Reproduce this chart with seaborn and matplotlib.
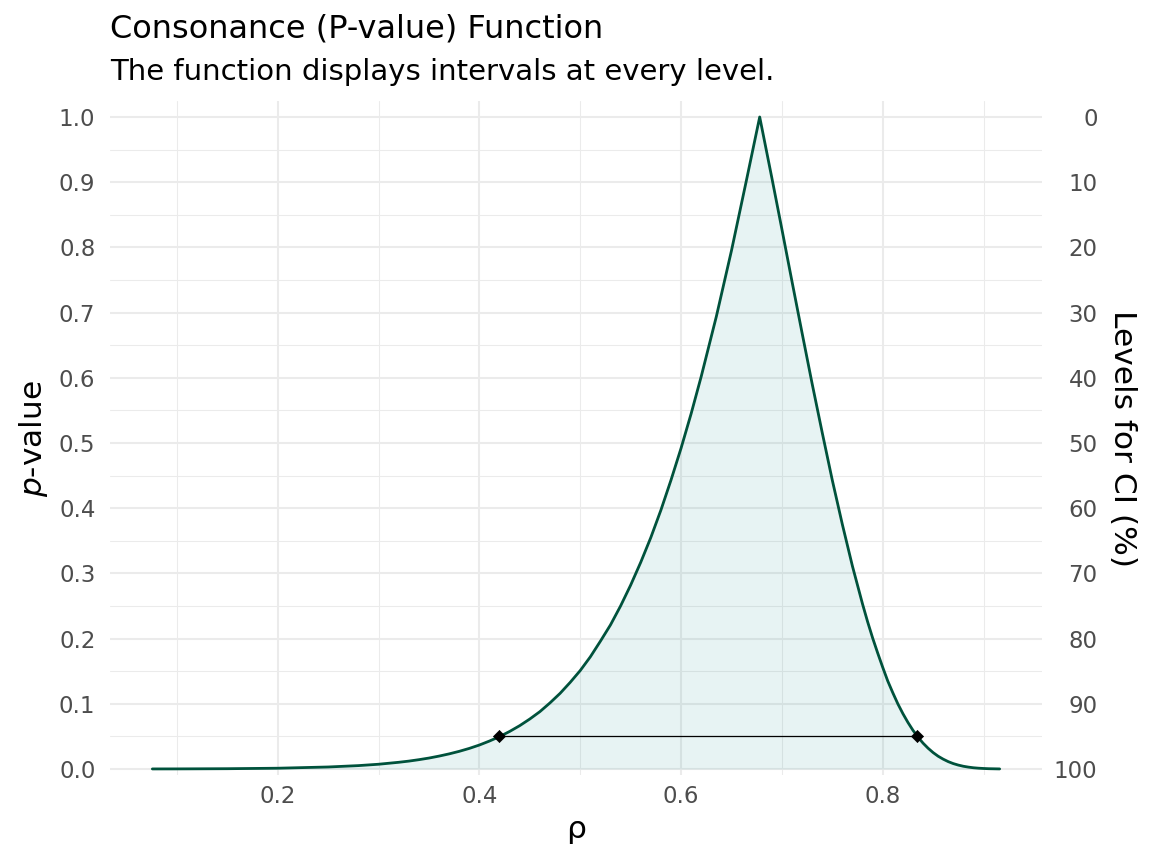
import numpy as np
import pandas as pd
import matplotlib
matplotlib.use("Agg")
import matplotlib.pyplot as plt
import seaborn as sns

# Values (rho vs p-value)
rho = [0.0756, 0.10, 0.15, 0.20, 0.25, 0.28, 0.30, 0.32, 0.33, 0.34, 0.35, 0.36,
       0.37, 0.38, 0.39, 0.40, 0.41, 0.42, 0.43, 0.44, 0.45, 0.46, 0.47, 0.48,
       0.49, 0.50, 0.51, 0.52, 0.53, 0.54, 0.55, 0.56, 0.57, 0.58, 0.59, 0.60,
       0.61, 0.62, 0.635, 0.65, 0.665, 0.678, 0.69, 0.70, 0.71, 0.72, 0.73,
       0.74, 0.75, 0.76, 0.77, 0.78, 0.785, 0.79, 0.795, 0.80, 0.805, 0.81,
       0.815, 0.82, 0.825, 0.83, 0.835, 0.84, 0.845, 0.85, 0.855, 0.86, 0.865,
       0.87, 0.875, 0.88, 0.885, 0.89, 0.895, 0.90, 0.905, 0.916]
pval = [0.0001, 0.00016, 0.00046, 0.0012, 0.0031, 0.0052, 0.0073, 0.0103, 0.0121,
        0.0143, 0.0168, 0.0198, 0.0232, 0.0271, 0.0316, 0.0368, 0.0429, 0.0497,
        0.0576, 0.0665, 0.0767, 0.088, 0.1014, 0.116, 0.1328, 0.151, 0.172,
        0.196, 0.221, 0.250, 0.282, 0.317, 0.355, 0.397, 0.443, 0.492, 0.545,
        0.602, 0.694, 0.795, 0.904, 1.0, 0.907, 0.828, 0.748, 0.669, 0.591,
        0.516, 0.443, 0.375, 0.311, 0.253, 0.226, 0.201, 0.178, 0.156, 0.135,
        0.117, 0.100, 0.085, 0.0715, 0.0594, 0.0489, 0.0397, 0.0319, 0.0252,
        0.0196, 0.0151, 0.0113, 0.0083, 0.0060, 0.0042, 0.0029, 0.0019, 0.00125,
        0.0008, 0.00046, 0.00012]
ci_bounds = [0.419, 0.834]
ci_p = [0.05, 0.05]

y_ticks = [0.0, 0.1, 0.2, 0.3, 0.4, 0.5, 0.6, 0.7, 0.8, 0.9, 1.0]
y_labels = ["0.0", "0.1", "0.2", "0.3", "0.4", "0.5", "0.6", "0.7", "0.8", "0.9", "1.0"]
level_labels = ["100", "90", "80", "70", "60", "50", "40", "30", "20", "10", "0"]
x_ticks = [0.2, 0.4, 0.6, 0.8]
x_labels = ["0.2", "0.4", "0.6", "0.8"]
x_minor = [0.1, 0.3, 0.5, 0.7, 0.9]
y_minor = [0.05, 0.15, 0.25, 0.35, 0.45, 0.55, 0.65, 0.75, 0.85, 0.95]

sns.set_theme(style="white")
plt.rcParams['font.family'] = ['DejaVu Sans']

W, H = 1152, 864
fig = plt.figure(figsize=(W / 100, H / 100), dpi=100)
ax = fig.add_axes([110 / W, (H - 775) / H, (1042 - 110) / W, (775 - 101) / H])

df = pd.DataFrame({"rho": rho, "p": pval})
ax.fill_between(df["rho"], 0, df["p"], color="#1a8a8a", alpha=0.1, lw=0, zorder=2)
sns.lineplot(data=df, x="rho", y="p", color="#00523c", lw=2.0, ax=ax,
             sort=False, zorder=3)
ci_df = pd.DataFrame({"rho": ci_bounds, "p": ci_p})
sns.lineplot(data=ci_df, x="rho", y="p", color="black", lw=0.9, ax=ax, zorder=4)
sns.scatterplot(data=ci_df, x="rho", y="p", marker="D", s=38, color="black",
                edgecolor="black", linewidth=0.5, ax=ax, zorder=5)

ax.set_xlim(0.0336, 0.958)
ax.set_ylim(-0.0092, 1.0245)

ax.set_xticks(x_ticks)
ax.set_xticklabels(x_labels)
ax.set_xticks(x_minor, minor=True)
ax.set_yticks(y_ticks)
ax.set_yticklabels(y_labels)
ax.set_yticks(y_minor, minor=True)
ax.set_axisbelow(True)
ax.grid(which="major", color="#EBEBEB", lw=1.5)
ax.grid(which="minor", color="#EBEBEB", lw=0.75)
for s in ax.spines.values():
    s.set_visible(False)
ax.tick_params(which="both", length=0)
ax.tick_params(axis="y", labelsize=16.5, labelcolor="#4D4D4D", pad=10.5)
ax.tick_params(axis="x", labelsize=16.5, labelcolor="#4D4D4D", pad=7)
ax.set_xlabel("")
ax.set_ylabel("")
fig.text(576 / W, 1 - 829 / H, "ρ", fontsize=22.5, color="black",
         ha="center", va="center")
fig.text(33 / W, 1 - 439 / H, "$p$-value", fontsize=22.5, color="black",
         ha="center", va="center", rotation=90)

ax2 = ax.twinx()
ax2.set_ylim(ax.get_ylim())
ax2.set_yticks(y_ticks)
ax2.set_yticklabels(level_labels, ha="right")
ax2.grid(False)
for s in ax2.spines.values():
    s.set_visible(False)
ax2.tick_params(axis="y", length=0, labelsize=16.5, labelcolor="#4D4D4D", pad=40)
fig.text(1122 / W, 1 - 438 / H, "Levels for CI (%)",
         rotation=-90, fontsize=22.5, color="black", ha="center", va="center")

fig.text(110 / W, 1 - 37 / H, "Consonance (P-value) Function", fontsize=23,
         color="black", ha="left", va="baseline")
fig.text(110 / W, 1 - 80 / H, "The function displays intervals at every level.",
         fontsize=21, color="black", ha="left", va="baseline")

fig.savefig("out.png", dpi=100)
